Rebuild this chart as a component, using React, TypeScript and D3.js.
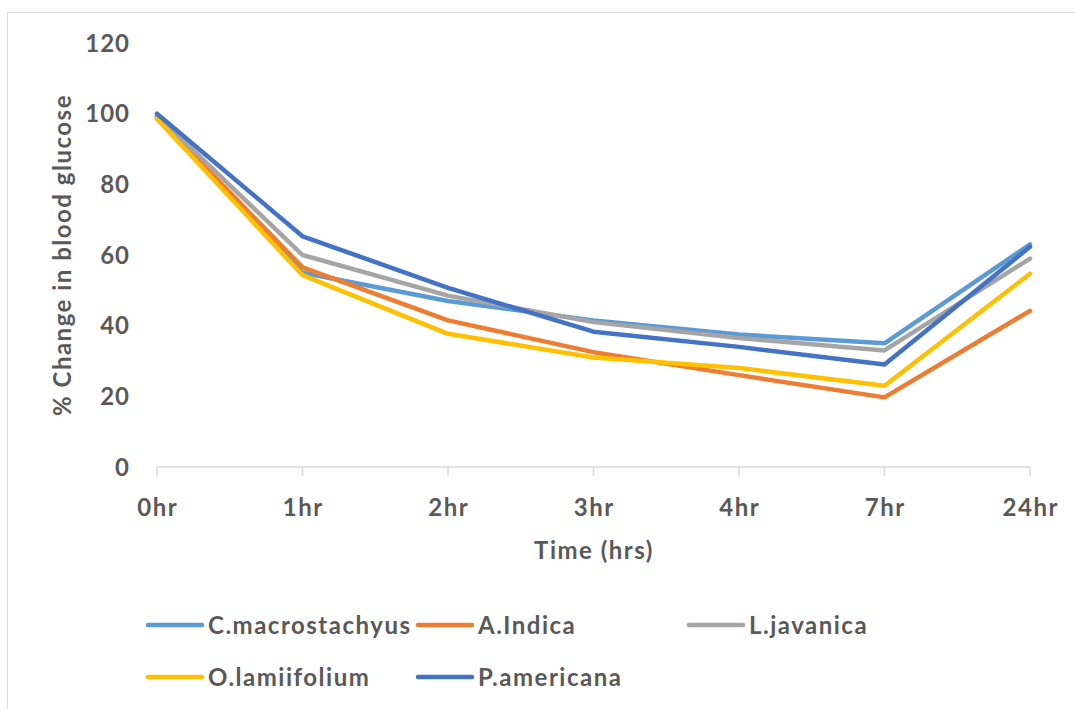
import React from "react";
import * as d3 from "d3";

const categories = ["0hr", "1hr", "2hr", "3hr", "4hr", "7hr", "24hr"];
const yTicks = [0, 20, 40, 60, 80, 100, 120];

const cMacrostachyus = [99, 55, 47, 41.5, 37.5, 35, 63];
const aIndica = [99, 56.5, 41.5, 32.5, 26, 19.7, 44.2];
const lJavanica = [99.5, 60, 48.5, 41, 36.5, 33, 59];
const oLamiifolium = [98.5, 54.3, 37.7, 31, 28, 23, 54.7];
const pAmericana = [100, 65.3, 50.7, 38.3, 34, 29, 62.3];

const seriesNames = ["C.macrostachyus", "A.Indica", "L.javanica", "O.lamiifolium", "P.americana"];
const seriesValues = [cMacrostachyus, aIndica, lJavanica, oLamiifolium, pAmericana];
const seriesColors = ["#5B9BD5", "#ED7D31", "#A5A5A5", "#FFC000", "#4472C4"];

const W = 1075;
const H = 709;
const FONT = "Lato, 'Open Sans', sans-serif";
const TEXT = "#595959";

export default function App() {
  const x = d3.scalePoint<string>().domain(categories).range([157, 1030]);
  const y = d3.scaleLinear().domain([0, 120]).range([467, 43]);

  const line = d3
    .line<number>()
    .x((_, i) => x(categories[i]) as number)
    .y((d) => y(d));

  const legendPos = [
    { lx: 148, ly: 625 },
    { lx: 418, ly: 625 },
    { lx: 689, ly: 625 },
    { lx: 148, ly: 677 },
    { lx: 418, ly: 677 },
  ];

  const textProps = {
    fontFamily: FONT,
    fontWeight: "bold" as const,
    fontSize: 24,
    fill: TEXT,
  };

  return (
    <div style={{ position: "absolute", left: 0, top: 0 }}>
      <svg width={W} height={H} style={{ display: "block", background: "#fff" }}>
        <rect x={7.5} y={12.5} width={W} height={H} fill="#fff" stroke="#d9d9d9" strokeWidth={1} />

        {/* y tick labels */}
        {yTicks.map((t) => (
          <text key={t} x={130} y={y(t)} dy="0.36em" textAnchor="end" letterSpacing={1} {...textProps}>
            {t}
          </text>
        ))}

        {/* x axis */}
        <line x1={157} x2={1030} y1={y(0)} y2={y(0)} stroke="#d9d9d9" strokeWidth={1.5} />
        {categories.map((c) => (
          <g key={c}>
            <line x1={x(c)} x2={x(c)} y1={y(0)} y2={y(0) + 9} stroke="#d9d9d9" strokeWidth={1.5} />
            <text x={(x(c) as number) + 0.75} y={507} dy="0.36em" textAnchor="middle" letterSpacing={1.5} {...textProps}>
              {c}
            </text>
          </g>
        ))}

        {/* axis titles */}
        <text x={594} y={550} dy="0.36em" textAnchor="middle" letterSpacing={1.5} {...textProps}>
          Time (hrs)
        </text>
        <text
          transform={`translate(62,255) rotate(-90)`}
          dy="0.36em"
          textAnchor="middle"
          letterSpacing={1.5}
          {...textProps}
        >
          % Change in blood glucose
        </text>

        {/* lines */}
        {seriesValues.map((vals, i) => (
          <path
            key={seriesNames[i]}
            d={line(vals) || ""}
            fill="none"
            stroke={seriesColors[i]}
            strokeWidth={4.5}
            strokeLinejoin="round"
            strokeLinecap="round"
          />
        ))}

        {/* legend */}
        {seriesNames.map((name, i) => (
          <g key={name}>
            <line
              x1={legendPos[i].lx}
              x2={legendPos[i].lx + 54}
              y1={legendPos[i].ly}
              y2={legendPos[i].ly}
              stroke={seriesColors[i]}
              strokeWidth={4.5}
              strokeLinecap="round"
            />
            <text x={legendPos[i].lx + 60} y={legendPos[i].ly} dy="0.36em" letterSpacing={1.5} {...textProps}>
              {name}
            </text>
          </g>
        ))}
      </svg>
    </div>
  );
}
